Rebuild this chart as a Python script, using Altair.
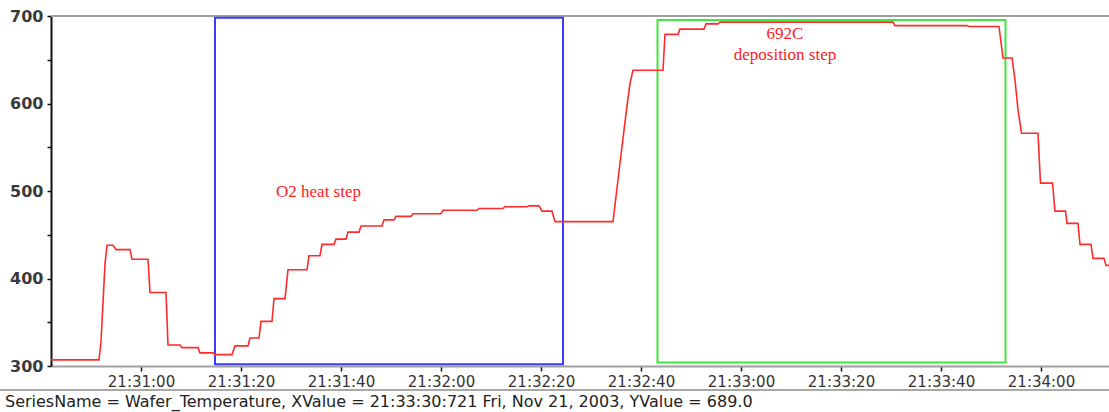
import altair as alt
import pandas as pd

# Wafer temperature log: seconds after 21:31:00 (Nov 21, 2003) and temperature in C
secs = [-18, -8.4, -8.0, -7.6, -7.2, -6.8, -5.6, -5.0, -2.2, -1.8, 1.4, 1.8, 5.0, 5.4,
        7.8, 8.2, 11.4, 11.8, 14.4, 14.8, 18.2, 18.8, 21.4, 21.8, 23.6, 24.0, 26.2,
        26.6, 28.8, 29.4, 33.2, 33.6, 35.8, 36.2, 38.6, 39.0, 41.0, 41.4, 43.6, 44.0,
        48.2, 48.6, 50.6, 51.0, 54.0, 54.4, 60.0, 60.4, 67.2, 67.6, 72.4, 72.8, 77.2,
        77.6, 79.6, 80.2, 82.2, 82.8, 94.4, 95.8, 97.1, 97.8, 98.4, 104.4, 104.8,
        107.4, 107.8, 112.6, 113.0, 115.4, 115.8, 150.4, 150.8, 165.2, 165.6, 171.6,
        172.4, 174.2, 174.8, 175.4, 176.1, 179.4, 179.9, 182.3, 182.8, 184.9, 185.2,
        187.4, 187.8, 190.0, 190.4, 192.6, 193.0, 193.6]
temps = [307, 307, 328, 372, 417, 438, 438, 433, 433, 422, 422, 384, 384, 324,
         324, 321, 321, 315, 315, 313, 313, 323, 323, 332, 332, 351, 351,
         377, 377, 410, 410, 426, 426, 439, 439, 445, 445, 453, 453, 460,
         460, 467, 467, 471, 471, 474, 474, 478, 478, 480, 480, 482, 482,
         483, 483, 477, 477, 465, 465, 532, 593, 623, 638, 638, 679,
         679, 685, 685, 691, 691, 693, 693, 689, 689, 688, 688,
         652, 652, 627, 593, 566, 566, 509, 509, 477, 477, 463,
         463, 439, 439, 423, 423, 415, 415]

# Process-step boxes
box_names = ["O2 heat step", "deposition step"]
box_start = [14.8, 103.3]
box_end = [84.4, 172.9]
box_low = [302, 304]
box_high = [698, 695.5]
box_colors = ["#3c3cff", "#3ee63e"]

# Annotations
note_text = ["O2 heat step", "692C", "deposition step"]
note_sec = [35.5, 128.8, 128.8]
note_temp = [499, 680, 655.5]

tick_secs = [0, 20, 40, 60, 80, 100, 120, 140, 160, 180]
status = "SeriesName = Wafer_Temperature, XValue = 21:33:30:721 Fri, Nov 21, 2003, YValue = 689.0"


def clock(sec):
    total = 21 * 3600 + 31 * 60 + sec
    h = int(total // 3600)
    m = int((total % 3600) // 60)
    s = total - h * 3600 - m * 60
    return f"2003-11-21T{h:02d}:{m:02d}:{s:06.3f}"


def dt(sec):
    total = 21 * 3600 + 31 * 60 + sec
    h = int(total // 3600)
    m = int((total % 3600) // 60)
    s = total - h * 3600 - m * 60
    whole = int(s)
    ms = int(round((s - whole) * 1000))
    return alt.DateTime(year=2003, month=11, date=21, hours=h, minutes=m,
                        seconds=whole, milliseconds=ms)


series = pd.DataFrame({"time": [clock(s) for s in secs], "temp": temps})
boxes = pd.DataFrame({
    "name": box_names,
    "start": [clock(s) for s in box_start],
    "end": [clock(s) for s in box_end],
    "low": box_low,
    "high": box_high,
    "color": box_colors,
})
notes = pd.DataFrame({"text": note_text, "time": [clock(s) for s in note_sec],
                      "temp": note_temp})

W, H = 1058, 350
LABEL_FONT = "DejaVu Sans"

x_enc = alt.X(
    "time:T",
    scale=alt.Scale(domain=[dt(-18), dt(193.6)]),
    axis=alt.Axis(
        values=[dt(s) for s in tick_secs], format="%H:%M:%S", title=None, grid=False,
        labelFont=LABEL_FONT, labelFontSize=15, labelColor="#333333", labelPadding=3,
        domainColor="#a0a0a0", domainWidth=2, tickColor="#111111", tickSize=5,
        tickWidth=1.5, labelFlush=False,
    ),
)
y_enc = alt.Y(
    "temp:Q",
    scale=alt.Scale(domain=[300, 700], nice=False, zero=False),
    axis=alt.Axis(
        values=list(range(300, 701, 50)),
        labelExpr="datum.value % 100 == 0 ? datum.label : ''",
        title=None, grid=False, labelFont=LABEL_FONT, labelFontSize=16,
        labelFontWeight="bold", labelColor="#3a3a3a", labelPadding=4,
        domainColor="#111111", domainWidth=2, tickColor="#111111", tickSize=4,
        tickWidth=1.5,
    ),
)

line = alt.Chart(series).mark_line(
    color="#ff2a2a", strokeWidth=1.6, interpolate="linear", clip=True
).encode(x=x_enc, y=y_enc)

rects = alt.Chart(boxes).mark_rect(fillOpacity=0, strokeWidth=2).encode(
    x="start:T", x2="end:T", y="low:Q", y2="high:Q",
    stroke=alt.Color("color:N", scale=None),
)

labels = alt.Chart(notes).mark_text(
    font="Liberation Serif", fontSize=17, color="#ff2020", align="center",
    baseline="middle",
).encode(x="time:T", y="temp:Q", text="text:N")

frame = pd.DataFrame({"k": [0]})
top_rule = alt.Chart(frame).mark_rule(color="#a0a0a0", strokeWidth=2).encode(
    x=alt.value(0), x2=alt.value(W), y=alt.value(0)
)
sep_rule = alt.Chart(frame).mark_rule(color="#a8a8a8", strokeWidth=2).encode(
    x=alt.value(-51), x2=alt.value(W), y=alt.value(374)
)
status_text = alt.Chart(frame).mark_text(
    font=LABEL_FONT, fontSize=16, color="#222222", align="left", baseline="middle",
    text=status,
).encode(x=alt.value(-46), y=alt.value(386))

chart = alt.layer(top_rule, rects, line, labels, sep_rule, status_text).properties(
    width=W, height=H,
    autosize=alt.AutoSizeParams(type="none"),
    padding={"left": 51, "top": 16, "right": 0, "bottom": 46},
    background="#ffffff",
).configure_view(stroke=None)

chart.save("out.html", embed_options={"renderer": "svg", "actions": False})
